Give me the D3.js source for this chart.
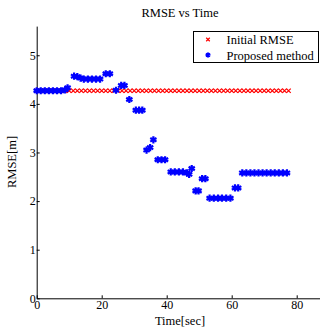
<!DOCTYPE html>
<html>
<head>
<meta charset="utf-8">
<script src="https://cdn.jsdelivr.net/npm/d3@7"></script>
<style>
  body { margin: 0; background: #fff; }
  svg text { font-family: "Liberation Serif", "Times New Roman", serif; fill: #000; }
</style>
</head>
<body>
<svg width="320" height="328"></svg>
<script>
// Initial RMSE (constant) sample times
var initialTime = [0, 1.25, 2.5, 3.75, 5, 6.25, 7.5, 8.75, 10, 11.25, 12.5, 13.75, 15, 16.25, 17.5, 18.75,
  20, 21.25, 22.5, 23.75, 25, 26.25, 27.5, 28.75, 30, 31.25, 32.5, 33.75, 35, 36.25, 37.5, 38.75,
  40, 41.25, 42.5, 43.75, 45, 46.25, 47.5, 48.75, 50, 51.25, 52.5, 53.75, 55, 56.25, 57.5, 58.75,
  60, 61.25, 62.5, 63.75, 65, 66.25, 67.5, 68.75, 70, 71.25, 72.5, 73.75, 75, 76.25, 77.5];
var initialRmse = 4.27;

// Proposed method
var propTime = [0, 1.25, 2.5, 3.75, 5, 6.25, 7.5, 8.75, 9.5,
  11.5, 12.5, 13.5, 14.5, 15.75, 17, 18.25, 19.5,
  21.25, 22.5, 24.4, 26, 27, 28.5,
  30.5, 31.5, 32.5, 33.8, 34.9, 35.9,
  37.25, 38.4, 39.5,
  41.25, 42.5, 43.75, 45, 46.25, 46.9, 47.7,
  48.9, 49.8, 50.9, 51.9,
  53.2, 54.5, 55.8, 57, 58.3, 59.6,
  61, 62,
  63.25, 64.5, 65.75, 67, 68.25, 69.5, 70.75, 72, 73.25, 74.5, 75.75, 77];
var propRmse = [4.27, 4.27, 4.27, 4.27, 4.27, 4.27, 4.27, 4.29, 4.33,
  4.57, 4.56, 4.53, 4.51, 4.51, 4.51, 4.51, 4.51,
  4.62, 4.62, 4.28, 4.38, 4.38, 4.09,
  3.87, 3.87, 3.87, 3.05, 3.10, 3.26,
  2.85, 2.85, 2.85,
  2.60, 2.60, 2.60, 2.60, 2.58, 2.55, 2.67,
  2.21, 2.21, 2.46, 2.46,
  2.06, 2.06, 2.06, 2.06, 2.06, 2.06,
  2.27, 2.27,
  2.58, 2.58, 2.58, 2.58, 2.58, 2.58, 2.58, 2.58, 2.58, 2.58, 2.58, 2.58];

var xTicks = [0, 20, 40, 60, 80];
var yTicks = [0, 1, 2, 3, 4, 5];
var legendLabels = ["Initial RMSE", "Proposed method"];

var svg = d3.select("svg");

var x = d3.scaleLinear().domain([0, 88]).range([36.7, 322.7]);
var y = d3.scaleLinear().domain([0, 5.6]).range([298.3, 26.1]);

// axes, MATLAB style: inward ticks, no box
var xAxis = svg.append("g")
    .attr("transform", "translate(0," + y(0) + ")")
    .call(d3.axisBottom(x).tickValues(xTicks).tickFormat(d3.format("d"))
      .tickSizeInner(-3).tickSizeOuter(0).tickPadding(2));
var yAxis = svg.append("g")
    .attr("transform", "translate(" + x(0) + ",0)")
    .call(d3.axisLeft(y).tickValues(yTicks).tickFormat(d3.format("d"))
      .tickSizeInner(-3).tickSizeOuter(0).tickPadding(1));

[xAxis, yAxis].forEach(function(g) {
  g.attr("font-family", null).attr("font-size", null);
  g.select(".domain").attr("stroke", "#000").attr("stroke-width", 1);
  g.selectAll(".tick line").attr("stroke", "#000");
  g.selectAll(".tick text")
      .style("font-family", "Liberation Serif, serif")
      .style("font-size", "12px")
      .attr("fill", "#000");
});

// red x markers
var xSym = d3.symbol().type(d3.symbolX).size(14);
svg.append("g")
  .selectAll("path")
  .data(initialTime)
  .enter().append("path")
    .attr("d", xSym)
    .attr("transform", function(d) { return "translate(" + x(d) + "," + y(initialRmse) + ")"; })
    .attr("fill", "none")
    .attr("stroke", "#ff0000")
    .attr("stroke-width", 1.2);

// blue star markers
var starSym = d3.symbol().type(d3.symbolAsterisk).size(36);
svg.append("g")
  .selectAll("path")
  .data(propTime)
  .enter().append("path")
    .attr("d", starSym)
    .attr("transform", function(d, i) { return "translate(" + x(d) + "," + y(propRmse[i]) + ")"; })
    .attr("fill", "none")
    .attr("stroke", "#0000ff")
    .attr("stroke-width", 2.2);

// title and axis labels
svg.append("text")
    .attr("x", 180).attr("y", 17)
    .attr("text-anchor", "middle")
    .style("font-size", "12.5px")
    .text("RMSE vs Time");

svg.append("text")
    .attr("x", 180).attr("y", 325)
    .attr("text-anchor", "middle")
    .style("font-size", "12.5px")
    .text("Time[sec]");

svg.append("text")
    .attr("transform", "translate(16,162) rotate(-90)")
    .attr("text-anchor", "middle")
    .style("font-size", "12.5px")
    .text("RMSE[m]");

// legend
var legend = svg.append("g");
legend.append("rect")
    .attr("x", 193.5).attr("y", 31.5)
    .attr("width", 125).attr("height", 31)
    .attr("fill", "#fff")
    .attr("stroke", "#000")
    .attr("stroke-width", 1);

legend.append("path")
    .attr("d", d3.symbol().type(d3.symbolX).size(10))
    .attr("transform", "translate(208,39.5)")
    .attr("fill", "none").attr("stroke", "#ff0000").attr("stroke-width", 1.2);
legend.append("path")
    .attr("d", d3.symbol().type(d3.symbolAsterisk).size(18))
    .attr("transform", "translate(208,55)")
    .attr("fill", "none").attr("stroke", "#0000ff").attr("stroke-width", 2);

legend.selectAll("text")
  .data(legendLabels)
  .enter().append("text")
    .attr("x", 226.5)
    .attr("y", function(d, i) { return 44 + i * 15.5; })
    .style("font-size", "12.5px")
    .text(function(d) { return d; });
</script>
</body>
</html>
